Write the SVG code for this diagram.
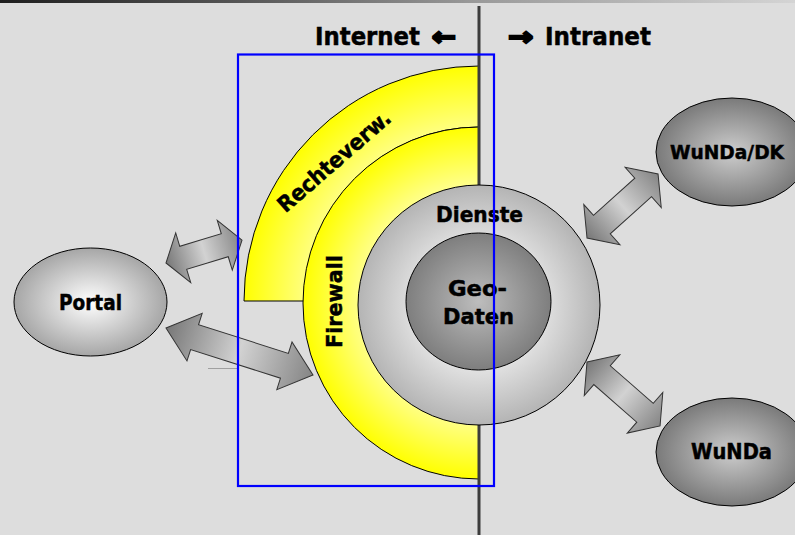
<svg xmlns="http://www.w3.org/2000/svg" width="795" height="535" viewBox="0 0 795 535">
<style>
.lbl{font-family:"DejaVu Sans","Liberation Sans",sans-serif;font-weight:bold;fill:#000;stroke:#000;stroke-width:0.5;}
.edge{stroke:#000;stroke-width:1;}
.arr{fill:url(#gArrow);stroke:#333;stroke-width:1;stroke-linejoin:miter;}
</style>
<defs>
<linearGradient id="gTop" x1="0" y1="0" x2="1" y2="0">
<stop offset="0" stop-color="#1e1e1e"/>
<stop offset="0.3" stop-color="#555"/>
<stop offset="0.6" stop-color="#9a9a9a"/>
<stop offset="1" stop-color="#d4d4d4"/>
</linearGradient>
<radialGradient id="gRecht" gradientUnits="userSpaceOnUse" cx="479" cy="301" r="235">
<stop offset="0.74" stop-color="#ffff80"/>
<stop offset="1" stop-color="#ffff00"/>
</radialGradient>
<radialGradient id="gFire" gradientUnits="userSpaceOnUse" cx="479" cy="303" r="176">
<stop offset="0.68" stop-color="#ffff88"/>
<stop offset="1" stop-color="#ffff00"/>
</radialGradient>
<radialGradient id="gDienste">
<stop offset="0.55" stop-color="#e0e0e0"/>
<stop offset="1" stop-color="#b4b4b4"/>
</radialGradient>
<radialGradient id="gGeo">
<stop offset="0" stop-color="#bdbdbd"/>
<stop offset="1" stop-color="#7e7e7e"/>
</radialGradient>
<radialGradient id="gPortal">
<stop offset="0" stop-color="#ffffff"/>
<stop offset="1" stop-color="#a6a6a6"/>
</radialGradient>
<radialGradient id="gWunda">
<stop offset="0" stop-color="#cdcdcd"/>
<stop offset="1" stop-color="#7a7a7a"/>
</radialGradient>
<linearGradient id="gArrow" x1="0" y1="0" x2="1" y2="0">
<stop offset="0" stop-color="#777"/>
<stop offset="0.5" stop-color="#d2d2d2"/>
<stop offset="1" stop-color="#858585"/>
</linearGradient>
</defs>
<rect x="0" y="0" width="795" height="535" fill="#dddddd"/>
<rect x="0" y="0" width="795" height="3" fill="url(#gTop)"/>

<g id="rechteverw">
<path d="M479,66 A235,235 0 0 0 244,301 L305,301 A174,174 0 0 1 479,127 Z" fill="url(#gRecht)" class="edge"/>
<text class="lbl" font-size="22" transform="translate(339,167) rotate(-41)" text-anchor="middle" textLength="142" lengthAdjust="spacingAndGlyphs">Rechteverw.</text>
</g>
<g id="firewall">
<path d="M479,127 A176,176 0 0 0 479,479 L479,413 A110,110 0 0 1 479,193 Z" fill="url(#gFire)" class="edge"/>
<text class="lbl" font-size="22" transform="translate(342,301.5) rotate(-90)" text-anchor="middle" textLength="93" lengthAdjust="spacingAndGlyphs">Firewall</text>
</g>

<line id="grenze" x1="479" y1="6" x2="479" y2="535" stroke="#3c3c3c" stroke-width="3"/>

<g id="dienste">
<ellipse cx="479" cy="305" rx="121" ry="120" fill="url(#gDienste)" class="edge"/>
<text class="lbl" font-size="22" x="479.5" y="222" text-anchor="middle" textLength="87" lengthAdjust="spacingAndGlyphs">Dienste</text>
</g>
<g id="geodaten">
<ellipse cx="478.5" cy="301.5" rx="72.5" ry="68.5" fill="url(#gGeo)" class="edge"/>
<text class="lbl" font-size="22" x="477.5" y="296" text-anchor="middle" textLength="59" lengthAdjust="spacingAndGlyphs">Geo-</text>
<text class="lbl" font-size="22" x="478.5" y="324" text-anchor="middle" textLength="71" lengthAdjust="spacingAndGlyphs">Daten</text>
</g>

<g id="portal">
<ellipse cx="90.5" cy="302" rx="76.5" ry="54" fill="url(#gPortal)" class="edge"/>
<text class="lbl" font-size="22" x="90.5" y="310" text-anchor="middle" textLength="63" lengthAdjust="spacingAndGlyphs">Portal</text>
</g>
<g id="wunda-dk">
<ellipse cx="732" cy="152" rx="76" ry="54" fill="url(#gWunda)" class="edge"/>
<text class="lbl" font-size="20" x="727" y="159" text-anchor="middle" textLength="114" lengthAdjust="spacingAndGlyphs">WuNDa/DK</text>
</g>
<g id="wunda">
<ellipse cx="732" cy="452" rx="76" ry="54" fill="url(#gWunda)" class="edge"/>
<text class="lbl" font-size="21" x="731.5" y="459" text-anchor="middle" textLength="81" lengthAdjust="spacingAndGlyphs">WuNDa</text>
</g>

<g id="connectors">
<path class="arr" transform="translate(166,263) rotate(-16.8)" d="M0,0 L18,-26 L18,-12 L61.4,-12 L61.4,-26 L79.4,0 L61.4,26 L61.4,12 L18,12 L18,26 Z"/>
<path class="arr" transform="translate(166,328) rotate(17.7)" d="M0,0 L30,-25 L30,-13 L124.3,-13 L124.3,-25 L154.3,0 L124.3,25 L124.3,13 L30,13 L30,25 Z"/>
<path class="arr" transform="translate(587,238) rotate(-42)" d="M0,0 L20,-27 L20,-12.5 L75.6,-12.5 L75.6,-27 L95.6,0 L75.6,27 L75.6,12.5 L20,12.5 L20,27 Z"/>
<path class="arr" transform="translate(587,362) rotate(41.2)" d="M0,0 L20,-27 L20,-12.5 L77.1,-12.5 L77.1,-27 L97.1,0 L77.1,27 L77.1,12.5 L20,12.5 L20,27 Z"/>
<line x1="208" y1="368.5" x2="238" y2="368.5" stroke="#a0a0a0" stroke-width="1"/>
</g>

<g id="kopf">
<text class="lbl" font-size="25" x="315" y="45" textLength="105" lengthAdjust="spacingAndGlyphs">Internet</text>
<text class="lbl" font-size="25" x="432" y="45" style="stroke-width:2.2" textLength="24" lengthAdjust="spacingAndGlyphs">←</text>
<text class="lbl" font-size="25" x="508" y="45" style="stroke-width:2.2" textLength="25" lengthAdjust="spacingAndGlyphs">→</text>
<text class="lbl" font-size="25" x="545" y="45" textLength="106" lengthAdjust="spacingAndGlyphs">Intranet</text>
</g>

<rect id="rahmen" x="238" y="54.5" width="256" height="431.5" fill="none" stroke="#0000ff" stroke-width="2.2"/>
</svg>
